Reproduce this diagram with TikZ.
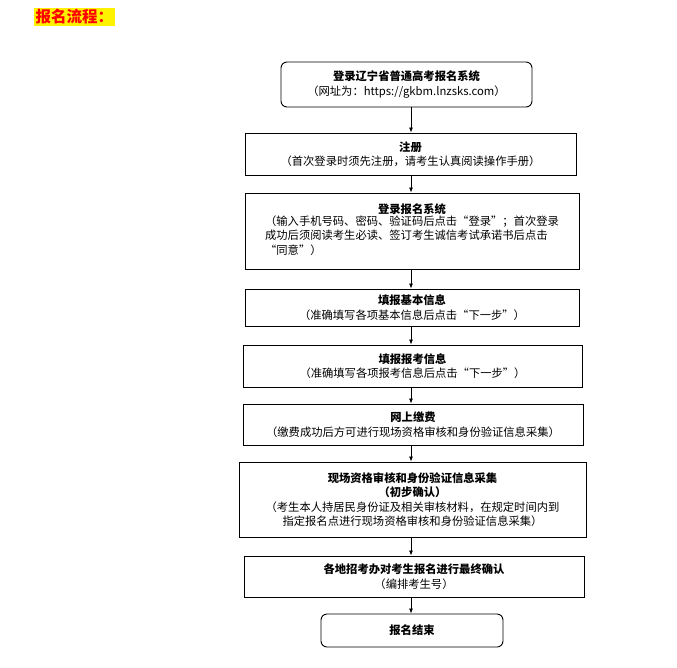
\documentclass[tikz,border=0pt]{standalone}
\usepackage{fontspec}
\setmainfont{Noto Sans CJK SC}
\usetikzlibrary{arrows.meta}
\begin{document}
\begin{tikzpicture}[x=1pt,y=-1pt,
  box/.style={draw,line width=0.9pt,inner sep=1pt,align=center,font=\fontsize{11.3}{14.5}\selectfont},
  rbox/.style={box,rounded corners=6pt},
  arr/.style={-{Latex[length=5pt,width=4pt]},line width=0.8pt}]
\useasboundingbox (0,0) rectangle (677,667);
\node[fill=yellow,text=red,font=\fontsize{15.5}{17}\selectfont\bfseries,inner sep=1.5pt,anchor=west] (t) at (34,17) {报名流程：};
\node[rbox,minimum width=251pt,minimum height=45pt] (n1) at (406.5,84.5) {\textbf{登录辽宁省普通高考报名系统}\\（网址为：https://gkbm.lnzsks.com）};
\node[box,minimum width=331pt,minimum height=42pt] (n2) at (410.5,154) {\textbf{注册}\\（首次登录时须先注册，请考生认真阅读操作手册）};
\node[box,minimum width=334pt,minimum height=76pt] (n3) at (412,231) {\textbf{登录报名系统}\\\begin{tabular}{@{}l@{}}（输入手机号码、密码、验证码后点击“登录”；首次登录\\成功后须阅读考生必读、签订考生诚信考试承诺书后点击\\“同意”）\end{tabular}};
\node[box,minimum width=334pt,minimum height=37pt] (n4) at (412,307.5) {\textbf{填报基本信息}\\（准确填写各项基本信息后点击“下一步”）};
\node[box,minimum width=339pt,minimum height=42pt] (n5) at (412.5,366) {\textbf{填报报考信息}\\（准确填写各项报考信息后点击“下一步”）};
\node[box,minimum width=340pt,minimum height=41pt] (n6) at (413,424.5) {\textbf{网上缴费}\\（缴费成功后方可进行现场资格审核和身份验证信息采集）};
\node[box,minimum width=347pt,minimum height=75pt] (n7) at (412.5,499.5) {\textbf{现场资格审核和身份验证信息采集}\\\textbf{（初步确认）}\\（考生本人持居民身份证及相关审核材料，在规定时间内到\\指定报名点进行现场资格审核和身份验证信息采集）};
\node[box,minimum width=340pt,minimum height=41pt] (n8) at (414,576.5) {\textbf{各地招考办对考生报名进行最终确认}\\（编排考生号）};
\node[rbox,minimum width=182pt,minimum height=33pt] (n9) at (412,630.5) {\textbf{报名结束}};
\foreach \a/\b in {n1/n2,n2/n3,n3/n4,n4/n5,n5/n6,n6/n7,n7/n8,n8/n9}
  \draw[arr] (\a.south -| 411,0) -- (\b.north -| 411,0);
\end{tikzpicture}
\end{document}
